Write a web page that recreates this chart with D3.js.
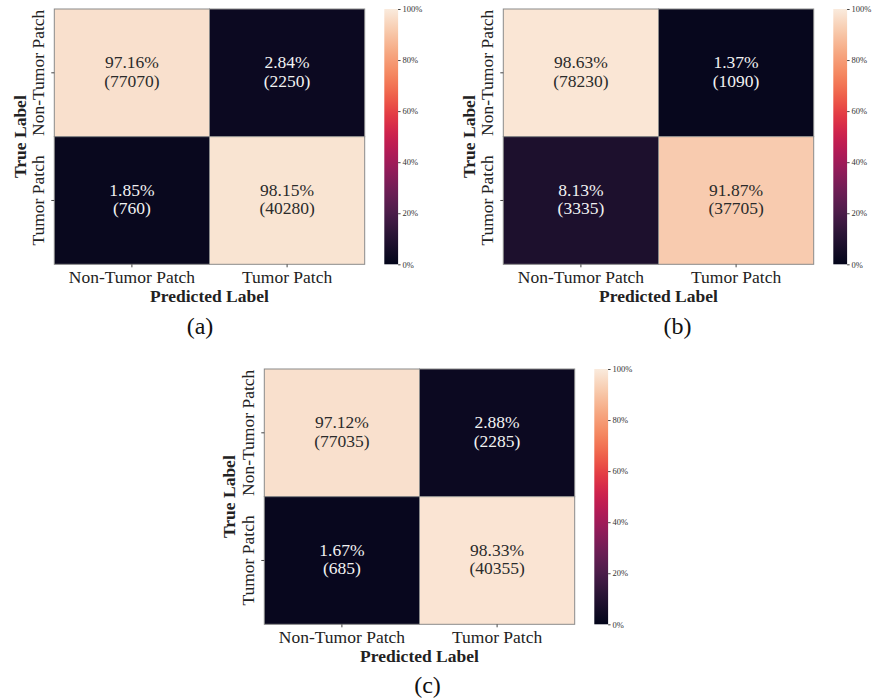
<!DOCTYPE html>
<html>
<head>
<meta charset="utf-8">
<script src="https://cdn.jsdelivr.net/npm/d3@7"></script>
<style>
  html, body { margin: 0; padding: 0; background: #fff; }
  svg { display: block; font-family: "Liberation Serif", "Times New Roman", serif; }
</style>
</head>
<body>
<svg id="chart" width="873" height="700"></svg>
<script>
// ---- data ----
const categories = ["Non-Tumor Patch", "Tumor Patch"];
const panelNames = ["(a)", "(b)", "(c)"];
const percentA = [[97.16, 2.84], [1.85, 98.15]];
const countA   = [[77070, 2250], [760, 40280]];
const percentB = [[98.63, 1.37], [8.13, 91.87]];
const countB   = [[78230, 1090], [3335, 37705]];
const percentC = [[97.12, 2.88], [1.67, 98.33]];
const countC   = [[77035, 2285], [685, 40355]];
const colorbarTicks = [0, 20, 40, 60, 80, 100];
const xAxisTitle = "Predicted Label";
const yAxisTitle = "True Label";

// seaborn "rocket" colormap anchors
const rocketStops = ["#03051a", "#221331", "#4c1d4b", "#711f57", "#a11a5b", "#cb1b4f",
                     "#e83f3f", "#f37651", "#f69c73", "#f7c4a4", "#faebdd"];

// ---- layout ----
const panels = [
  { left: 54.3,  top: 9,   label: [200, 334],   pct: percentA, cnt: countA },
  { left: 503.3, top: 9,   label: [677.5, 334], pct: percentB, cnt: countB },
  { left: 264.3, top: 369, label: [427.5, 693], pct: percentC, cnt: countC }
];
const W = 310.4, H = 255.3;
const cbGap = 19.6, cbW = 13.8;

const rocket = d3.interpolateRgbBasis(rocketStops);
const color = d3.scaleSequential(rocket).domain([0, 100]);

const svg = d3.select("#chart");
const defs = svg.append("defs");
const grad = defs.append("linearGradient").attr("id", "rocketGrad")
  .attr("x1", 0).attr("y1", 1).attr("x2", 0).attr("y2", 0);
d3.range(0, 1.0001, 0.02).forEach(t => {
  grad.append("stop").attr("offset", t).attr("stop-color", rocket(t));
});

panels.forEach((p, pi) => {
  const g = svg.append("g").attr("transform", `translate(${p.left},${p.top})`);
  const x = d3.scaleBand().domain(categories).range([0, W]);
  const y = d3.scaleBand().domain(categories).range([0, H]);

  const cells = [];
  categories.forEach((r, ri) => categories.forEach((c, ci) => {
    cells.push({ r, c, v: p.pct[ri][ci], n: p.cnt[ri][ci] });
  }));

  g.selectAll("rect.cell").data(cells).join("rect")
    .attr("class", "cell")
    .attr("x", d => x(d.c)).attr("y", d => y(d.r))
    .attr("width", x.bandwidth()).attr("height", y.bandwidth())
    .attr("fill", d => color(d.v))
    .attr("stroke", "#8a8a8a").attr("stroke-width", 1);

  const txt = g.selectAll("text.ann").data(cells).join("text")
    .attr("class", "ann")
    .attr("text-anchor", "middle")
    .attr("font-size", 17.5)
    .attr("fill", d => d.v > 50 ? "#2b2b2b" : "#f2f2f2");
  txt.append("tspan")
    .attr("x", d => x(d.c) + x.bandwidth() / 2)
    .attr("y", d => y(d.r) + y.bandwidth() / 2 - 4.5)
    .text(d => d.v.toFixed(2) + "%");
  txt.append("tspan")
    .attr("x", d => x(d.c) + x.bandwidth() / 2)
    .attr("y", d => y(d.r) + y.bandwidth() / 2 + 13.9)
    .text(d => "(" + d.n + ")");

  // x axis
  const xa = g.append("g").attr("transform", `translate(0,${H})`)
    .call(d3.axisBottom(x).tickSize(3).tickPadding(5));
  xa.select(".domain").remove();
  xa.selectAll("line").attr("stroke", "#444");
  xa.selectAll("text").attr("font-size", 17.5).attr("fill", "#222")
    .attr("font-family", "Liberation Serif, serif")
    .attr("dy", null).attr("y", 19);

  // y axis
  const ya = g.append("g").call(d3.axisLeft(y).tickSize(3).tickPadding(0));
  ya.select(".domain").remove();
  ya.selectAll("line").attr("stroke", "#444");
  ya.selectAll("text")
    .attr("font-size", 17.5).attr("fill", "#222")
    .attr("font-family", "Liberation Serif, serif")
    .attr("text-anchor", "middle")
    .attr("x", null).attr("dy", null)
    .attr("transform", "translate(-10,0) rotate(-90)")
    .attr("y", 0);

  // axis titles
  g.append("text").attr("x", W / 2).attr("y", H + 37.4)
    .attr("text-anchor", "middle").attr("font-size", 17.5).attr("font-weight", "bold")
    .attr("fill", "#222").text(xAxisTitle);
  g.append("text")
    .attr("transform", `translate(-28.8,${H / 2}) rotate(-90)`)
    .attr("text-anchor", "middle").attr("font-size", 17.5).attr("font-weight", "bold")
    .attr("fill", "#222").text(yAxisTitle);

  // colorbar
  const cb = g.append("g").attr("transform", `translate(${W + cbGap},0)`);
  cb.append("rect").attr("width", cbW).attr("height", H).attr("fill", "url(#rocketGrad)");
  const cs = d3.scaleLinear().domain([0, 100]).range([H, 0]);
  const ca = cb.append("g").attr("transform", `translate(${cbW},0)`)
    .call(d3.axisRight(cs).tickValues(colorbarTicks).tickSize(2.5).tickPadding(2)
      .tickFormat(d => d + "%"));
  ca.select(".domain").remove();
  ca.selectAll("line").attr("stroke", "#444");
  ca.selectAll("text").attr("font-size", 8.5).attr("fill", "#333")
    .attr("font-family", "Liberation Serif, serif");

  // panel label
  svg.append("text").attr("x", p.label[0]).attr("y", p.label[1])
    .attr("text-anchor", "middle").attr("font-size", 24).attr("fill", "#111")
    .text(panelNames[pi]);
});
</script>
</body>
</html>
